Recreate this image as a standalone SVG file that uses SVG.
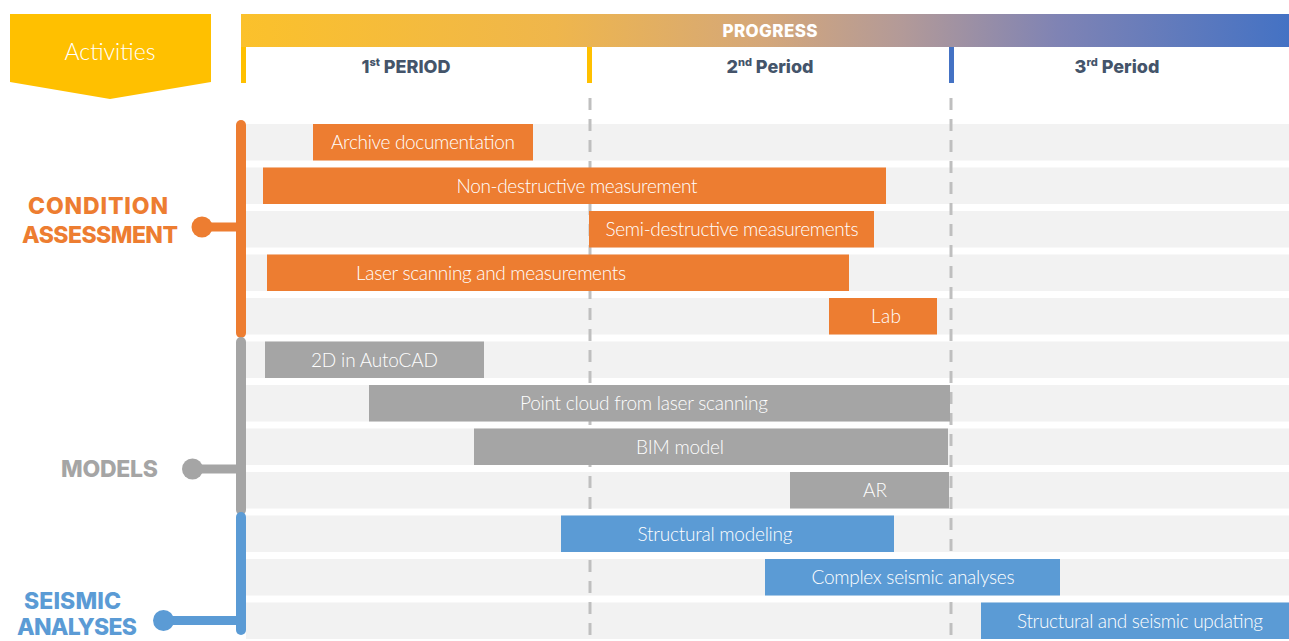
<svg xmlns="http://www.w3.org/2000/svg" width="1289" height="641" viewBox="0 0 1289 641">
<defs>
<linearGradient id="prog" x1="241" y1="0" x2="1289" y2="0" gradientUnits="userSpaceOnUse">
<stop offset="0" stop-color="#FBC12B"/>
<stop offset="0.3" stop-color="#EFB64C"/>
<stop offset="0.5" stop-color="#D4A77A"/>
<stop offset="0.63" stop-color="#B39A98"/>
<stop offset="0.78" stop-color="#7F83B4"/>
<stop offset="1" stop-color="#4472C4"/>
</linearGradient>
<style>
.row{fill:#F2F2F2}
.o{fill:#ED7D31}
.g{fill:#A5A5A5}
.b{fill:#5B9BD5}
.bl{font-family:Lato,"Liberation Sans",sans-serif;font-weight:300;font-size:19px;fill:#FFFFFF;text-anchor:middle}
.per{font-family:Inter,"Liberation Sans",sans-serif;font-weight:800;font-size:18px;fill:#44546A;text-anchor:middle}
.cat{font-family:Inter,"Liberation Sans",sans-serif;font-weight:800;font-size:23px;text-anchor:middle}
.dash{stroke:#BFBFBF;stroke-width:3;stroke-dasharray:12 9;fill:none}
</style>
</defs>
<rect width="1289" height="641" fill="#FFFFFF"/>

<g id="header">
<polygon points="10,14 211,14 211,82 110,99 10,82" fill="#FFC000"/>
<text x="110" y="60" font-family="Lato,'Liberation Sans',sans-serif" font-weight="300" font-size="23" fill="#FFFFFF" text-anchor="middle">Activities</text>
<rect x="241" y="14" width="1048" height="33" fill="url(#prog)"/>
<text x="770" y="37" font-family="Inter,'Liberation Sans',sans-serif" font-weight="800" font-size="17" fill="#FFFFFF" text-anchor="middle" textLength="95">PROGRESS</text>
<rect x="241" y="47" width="5" height="36" fill="#FFC000"/>
<rect x="587" y="47" width="5" height="36" fill="#FFC000"/>
<rect x="949" y="47" width="5" height="36" fill="#4472C4"/>
<text class="per" x="406" y="73">1<tspan font-size="11" dy="-7">st</tspan><tspan dy="7"> PERIOD</tspan></text>
<text class="per" x="770" y="73">2<tspan font-size="11" dy="-7">nd</tspan><tspan dy="7"> Period</tspan></text>
<text class="per" x="1117" y="73">3<tspan font-size="11" dy="-7">rd</tspan><tspan dy="7"> Period</tspan></text>
</g>

<g id="rows">
<rect class="row" x="246" y="124" width="1043" height="36.5"/>
<rect class="row" x="246" y="167.5" width="1043" height="36.5"/>
<rect class="row" x="246" y="211" width="1043" height="36.5"/>
<rect class="row" x="246" y="254.5" width="1043" height="36.5"/>
<rect class="row" x="246" y="298" width="1043" height="36.5"/>
<rect class="row" x="246" y="341.5" width="1043" height="36.5"/>
<rect class="row" x="246" y="385" width="1043" height="36.5"/>
<rect class="row" x="246" y="428.5" width="1043" height="36.5"/>
<rect class="row" x="246" y="472" width="1043" height="36.5"/>
<rect class="row" x="246" y="515.5" width="1043" height="36.5"/>
<rect class="row" x="246" y="559" width="1043" height="36.5"/>
<rect class="row" x="246" y="602.5" width="1043" height="36.5"/>
</g>

<g id="gridlines">
<line class="dash" x1="590" y1="98" x2="590" y2="641"/>
<line class="dash" x1="951" y1="98" x2="951" y2="641"/>
</g>

<g id="bar-archive"><rect class="o" x="313" y="124" width="220" height="36.5"/><text class="bl" x="423" y="149" textLength="184">Archive documentation</text></g>
<g id="bar-nondestructive"><rect class="o" x="263" y="167.5" width="623" height="36.5"/><text class="bl" x="577" y="192.5" textLength="241">Non-destructive measurement</text></g>
<g id="bar-semidestructive"><rect class="o" x="589" y="211" width="285" height="36.5"/><text class="bl" x="732" y="236" textLength="253">Semi-destructive measurements</text></g>
<g id="bar-laser"><rect class="o" x="267" y="254.5" width="582" height="36.5"/><text class="bl" x="491" y="279.5" textLength="270">Laser scanning and measurements</text></g>
<g id="bar-lab"><rect class="o" x="829" y="298" width="108" height="36.5"/><text class="bl" x="886" y="323" textLength="30">Lab</text></g>
<g id="bar-2d"><rect class="g" x="265" y="341.5" width="219" height="36.5"/><text class="bl" x="374.5" y="366.5" textLength="127">2D in AutoCAD</text></g>
<g id="bar-pointcloud"><rect class="g" x="369" y="385" width="581" height="36.5"/><text class="bl" x="644" y="410" textLength="248">Point cloud from laser scanning</text></g>
<g id="bar-bim"><rect class="g" x="474" y="428.5" width="474" height="36.5"/><text class="bl" x="680" y="453.5" textLength="88">BIM model</text></g>
<g id="bar-ar"><rect class="g" x="790" y="472" width="159" height="36.5"/><text class="bl" x="875" y="497" textLength="24">AR</text></g>
<g id="bar-structural"><rect class="b" x="561" y="515.5" width="333" height="36.5"/><text class="bl" x="715" y="540.5" textLength="155">Structural modeling</text></g>
<g id="bar-complex"><rect class="b" x="765" y="559" width="295" height="36.5"/><text class="bl" x="913" y="584" textLength="203">Complex seismic analyses</text></g>
<g id="bar-updating"><rect class="b" x="981" y="602.5" width="308" height="36.5"/><text class="bl" x="1140" y="627.5" textLength="246">Structural and seismic updating</text></g>

<g id="connectors" fill="none" stroke-linecap="round">
<line x1="241" y1="125" x2="241" y2="333" stroke="#ED7D31" stroke-width="10"/>
<line x1="203" y1="227" x2="241" y2="227" stroke="#ED7D31" stroke-width="9" stroke-linecap="butt"/>
<line x1="241" y1="342" x2="241" y2="510" stroke="#A5A5A5" stroke-width="10"/>
<line x1="192" y1="469" x2="241" y2="469" stroke="#A5A5A5" stroke-width="9" stroke-linecap="butt"/>
<line x1="241" y1="517" x2="241" y2="630" stroke="#5B9BD5" stroke-width="10"/>
<line x1="163" y1="620.5" x2="241" y2="620.5" stroke="#5B9BD5" stroke-width="9" stroke-linecap="butt"/>
</g>

<g id="cat-condition">
<circle cx="202" cy="227" r="10.5" fill="#ED7D31"/>
<text class="cat" x="98" y="214" fill="#ED7D31" textLength="140">CONDITION</text>
<text class="cat" x="100" y="243" fill="#ED7D31" textLength="156">ASSESSMENT</text>
</g>
<g id="cat-models">
<circle cx="192.5" cy="469" r="10.5" fill="#A5A5A5"/>
<text class="cat" x="109.5" y="477" fill="#A5A5A5" textLength="97">MODELS</text>
</g>
<g id="cat-seismic">
<circle cx="163.5" cy="620.5" r="10.5" fill="#5B9BD5"/>
<text class="cat" x="72.5" y="609" fill="#5B9BD5" font-size="21" textLength="97">SEISMIC</text>
<text class="cat" x="77" y="635" fill="#5B9BD5" font-size="21" textLength="120">ANALYSES</text>
</g>
</svg>
